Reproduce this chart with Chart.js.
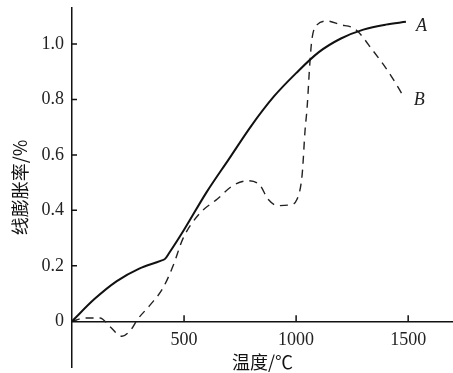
<!DOCTYPE html>
<html>
<head>
<meta charset="utf-8">
<script src="https://cdn.jsdelivr.net/npm/chart.js@4"></script>
<style>
  html, body { margin: 0; padding: 0; background: #fff; }
  #wrap { width: 453px; height: 373px; }
</style>
</head>
<body>
<div id="wrap"><canvas id="expChart"></canvas></div>
<script>
// curve A (solid)
const tempA = [0, 100, 200, 300, 395, 415, 435, 500, 600, 700, 800, 900, 1000, 1100, 1200, 1300, 1400, 1490];
const valA  = [0, 0.08, 0.145, 0.19, 0.218, 0.225, 0.248, 0.33, 0.465, 0.585, 0.705, 0.81, 0.895, 0.97, 1.02, 1.052, 1.07, 1.08];
// curve B (dashed)
const tempB = [0, 60, 125, 170, 223, 268, 290, 350, 406, 451, 496, 571, 647, 719, 786, 839, 875, 920, 973, 1004, 1027, 1040, 1049, 1062, 1071, 1094, 1138, 1196, 1263, 1344, 1420, 1480];
const valB  = [0, 0.012, 0.012, -0.02, -0.054, -0.025, 0.004, 0.06, 0.12, 0.2, 0.3, 0.39, 0.44, 0.49, 0.507, 0.49, 0.44, 0.417, 0.42, 0.44, 0.53, 0.69, 0.77, 0.94, 1.02, 1.07, 1.083, 1.07, 1.054, 0.975, 0.89, 0.81];

const xTicks = [500, 1000, 1500];
const yTicks = [0, 0.2, 0.4, 0.6, 0.8, 1.0];
const curveNames = ['A', 'B'];

const toPts = (xs, ys) => xs.map((x, i) => ({ x: x, y: ys[i] }));

// inward tick marks + curve names
const decorPlugin = {
    id: 'decor',
    afterDraw(chart) {
        const ctx = chart.ctx;
        const xs = chart.scales.x, ys = chart.scales.y;
        const x0 = xs.getPixelForValue(0), y0 = ys.getPixelForValue(0);
        ctx.save();
        ctx.strokeStyle = '#111';
        ctx.lineWidth = 1.5;
        ctx.beginPath();
        xTicks.forEach(v => {
            const px = xs.getPixelForValue(v);
            ctx.moveTo(px, y0);
            ctx.lineTo(px, y0 - 6);
        });
        yTicks.forEach(v => {
            const py = ys.getPixelForValue(v);
            ctx.moveTo(x0, py);
            ctx.lineTo(x0 + 5, py);
        });
        ctx.stroke();

        ctx.fillStyle = '#222';
        ctx.font = 'italic 18px "Liberation Serif"';
        ctx.textBaseline = 'middle';
        chart.data.datasets.forEach((ds, i) => {
            const last = ds.data[ds.data.length - 1];
            ctx.fillText(curveNames[i], xs.getPixelForValue(last.x) + 10, ys.getPixelForValue(last.y) + 4);
        });
        ctx.restore();
    }
};

new Chart(document.getElementById('expChart'), {
    type: 'line',
    data: {
        datasets: [{
            label: 'A',
            data: toPts(tempA, valA),
            borderColor: '#111',
            borderWidth: 2,
            pointRadius: 0,
            cubicInterpolationMode: 'monotone',
            fill: false
        }, {
            label: 'B',
            data: toPts(tempB, valB),
            borderColor: '#222',
            borderWidth: 1.4,
            borderDash: [8, 6],
            pointRadius: 0,
            cubicInterpolationMode: 'monotone',
            fill: false
        }]
    },
    options: {
        responsive: true,
        maintainAspectRatio: false,
        animation: false,
        layout: { padding: { top: 8, right: 0, bottom: 6, left: 0 } },
        plugins: {
            legend: { display: false },
            tooltip: { enabled: false }
        },
        scales: {
            x: {
                type: 'linear',
                position: { y: 0 },
                min: 0,
                max: 1700,
                afterBuildTicks: s => { s.ticks = xTicks.map(v => ({ value: v })); },
                afterFit: s => { s.paddingLeft = 0; s.paddingRight = 0; },
                grid: { display: true, drawOnChartArea: false, drawTicks: false },
                border: { display: true, color: '#111', width: 1.5 },
                ticks: {
                    color: '#222',
                    padding: 8,
                    font: { family: 'Liberation Serif', size: 18 },
                    callback: v => String(v)
                },
                title: {
                    display: true,
                    text: '温度/℃',
                    color: '#111',
                    padding: { top: -8, bottom: 0 },
                    font: { family: 'Noto Sans CJK SC', size: 18 }
                }
            },
            y: {
                type: 'linear',
                min: -0.165,
                max: 1.13,
                afterBuildTicks: s => { s.ticks = yTicks.map(v => ({ value: v })); },
                afterFit: s => { s.width = 72; s.paddingTop = 0; s.paddingBottom = 0; },
                grid: { display: true, drawOnChartArea: false, drawTicks: false },
                border: { display: true, color: '#111', width: 1.5 },
                ticks: {
                    color: '#222',
                    padding: 8,
                    font: { family: 'Liberation Serif', size: 18 },
                    callback: v => v === 0 ? '0' : v.toFixed(1)
                },
                title: {
                    display: true,
                    text: '线膨胀率/%',
                    color: '#111',
                    padding: { top: 9, bottom: 0 },
                    font: { family: 'Noto Sans CJK SC', size: 18 }
                }
            }
        }
    },
    plugins: [decorPlugin]
});
</script>
</body>
</html>
